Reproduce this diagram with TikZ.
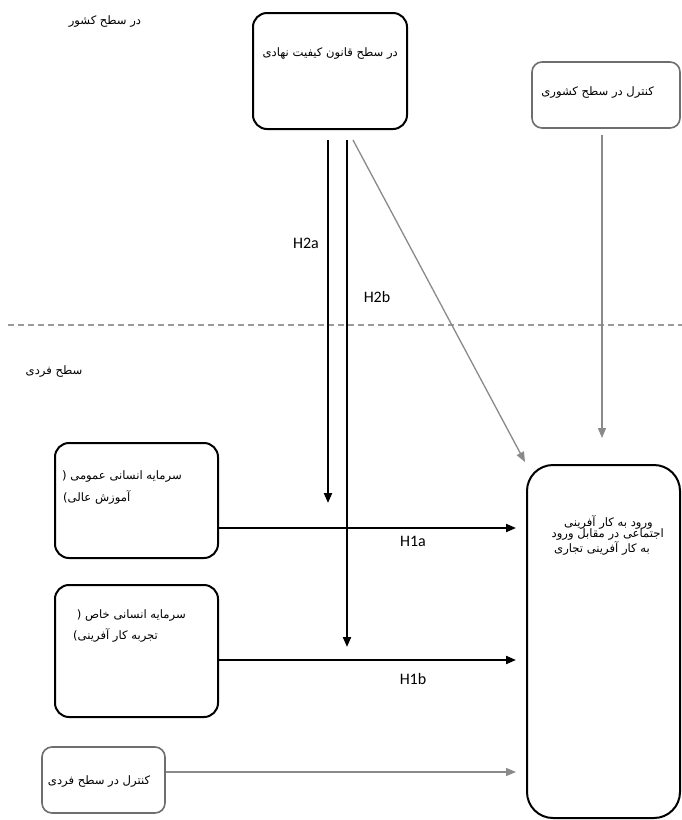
\documentclass[tikz,border=0pt]{standalone}
\usepackage{fontspec}
\usetikzlibrary{arrows.meta}
\TeXXeTstate=1
\newfontfamily\arabicfont[Script=Arabic]{DejaVu Sans}
\newfontfamily\latinlab{Carlito}
\definecolor{arrgray}{HTML}{8A8A8A}
\definecolor{boxgray}{HTML}{6E6E6E}
\definecolor{dashgray}{HTML}{9A9A9A}
\tikzset{
  blkbox/.style={draw=black,line width=2pt,rounded corners=14pt,inner sep=0pt},
  graybox/.style={draw=boxgray,line width=1.6pt,rounded corners=10pt,inner sep=0pt},
  blkarrow/.style={draw=black,line width=2pt,-{Triangle[length=10pt,width=8pt]}},
  grayarrow/.style={draw=arrgray,line width=1.3pt,-{Triangle[length=10pt,width=8pt]}},
  fatxt/.style={font=\arabicfont\fontsize{11.6}{13}\selectfont,inner sep=0pt},
  hlab/.style={font=\latinlab\fontsize{16}{18}\selectfont,inner sep=0pt},
}
\begin{document}
\begin{tikzpicture}[x=1pt,y=-1pt]
\useasboundingbox (0,0) rectangle (682,820);
\fill[white] (0,0) rectangle (682,820);

% boxes
\node[blkbox,minimum width=154pt,minimum height=116pt] (top) at (330,71) {};
\node[graybox,minimum width=148pt,minimum height=66pt] (cc) at (606,95) {};
\node[blkbox,minimum width=163pt,minimum height=115pt] (b1) at (136.5,500.5) {};
\node[blkbox,minimum width=163pt,minimum height=132pt] (b2) at (136.5,651) {};
\node[graybox,minimum width=123pt,minimum height=66pt] (ci) at (103.5,780) {};
\node[blkbox,rounded corners=26pt,minimum width=153pt,minimum height=353pt] (out) at (603.5,641.5) {};

% texts
\node[fatxt] (tcountry) at (105,22) {\beginR در سطح کشور\endR};
\node[fatxt,anchor=east] (ttop) at (398,54) {\beginR در سطح قانون کیفیت نهادی\endR};
\node[fatxt,anchor=east] (tcc) at (654,93) {\beginR کنترل در سطح کشوری\endR};
\node[fatxt] (tindiv) at (54,372) {\beginR سطح فردی\endR};
\node[fatxt,anchor=east] (tb1a) at (182,477) {\beginR سرمایه انسانی عمومی (\endR};
\node[fatxt,anchor=west] (tb1b) at (63,497) {\beginR آموزش عالی)\endR};
\node[fatxt,anchor=east] (tb2a) at (186,615) {\beginR سرمایه انسانی خاص (\endR};
\node[fatxt,anchor=west] (tb2b) at (73,635) {\beginR تجربه کار آفرینی)\endR};
\node[fatxt] (tci) at (99,781) {\beginR کنترل در سطح فردی\endR};
\node[fatxt,anchor=east] (tout1) at (653,522) {\beginR ورود به کار آفرینی\endR};
\node[fatxt,anchor=east] (tout2) at (664,535) {\beginR اجتماعی در مقابل ورود\endR};
\node[fatxt,anchor=west] (tout3) at (554,548) {\beginR به کار آفرینی تجاری\endR};

% coordinates
\coordinate (dashL) at (8,325);
\coordinate (dashR) at (682,325);
\coordinate (h2as) at (328,140);
\coordinate (h2ae) at (328,503);
\coordinate (h2bs) at (347,140);
\coordinate (h2be) at (347,647);
\coordinate (dgs) at (353,140);
\coordinate (dge) at (525,462);
\coordinate (ccs) at (602,135);
\coordinate (cce) at (602,438);
\coordinate (h1ae) at (516,528);
\coordinate (h1be) at (516,660);
\coordinate (cie) at (516,772);

% dashed separator
\draw[dashgray,line width=1.2pt,dash pattern=on 6pt off 4pt] (dashL) -- (dashR);

% connectors
\draw[blkarrow] (h2as) -- (h2ae);
\draw[blkarrow] (h2bs) -- (h2be);
\draw[grayarrow] (dgs) -- (dge);
\draw[grayarrow] (ccs) -- (cce);
\draw[blkarrow] (b1.east |- h1ae) -- (h1ae);
\draw[blkarrow] (b2.east |- h1be) -- (h1be);
\draw[grayarrow] (ci.east |- cie) -- (cie);

% labels
\node[hlab] (lh2a) at (306,243) {H2a};
\node[hlab] (lh2b) at (377,297) {H2b};
\node[hlab] (lh1a) at (413,541) {H1a};
\node[hlab] (lh1b) at (413,679) {H1b};
\end{tikzpicture}
\end{document}
